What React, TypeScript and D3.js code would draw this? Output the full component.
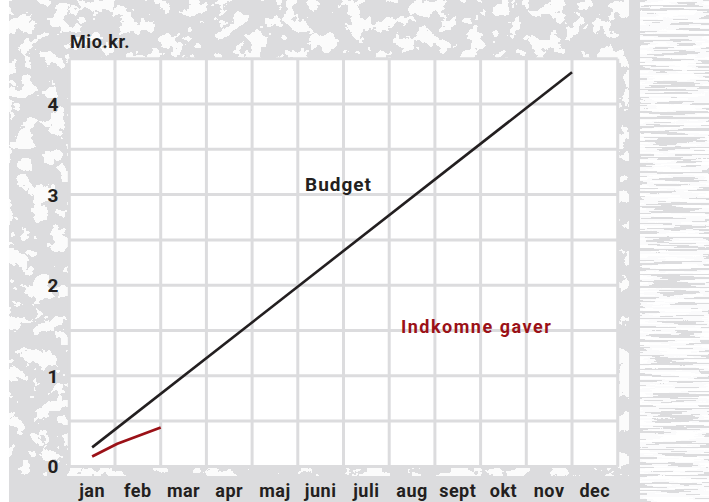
import React from "react";
import * as d3 from "d3";

const months = ["jan", "feb", "mar", "apr", "maj", "juni", "juli", "aug", "sept", "okt", "nov", "dec"];
const yTicks = [0, 1, 2, 3, 4];
const budgetX = [0.5, 11];
const budgetY = [0.21, 4.35];
const giftsX = [0.5, 1.05, 2];
const giftsY = [0.11, 0.25, 0.43];

const W = 709;
const H = 502;
const FONT = "Roboto, 'DejaVu Sans', sans-serif";

export default function App() {
  const x = d3.scaleLinear().domain([0, 12]).range([69.3, 617.7]);
  const y = d3.scaleLinear().domain([0, 4.5]).range([466.4, 58.7]);
  const line = d3
    .line<[number, number]>()
    .x((d) => x(d[0]))
    .y((d) => y(d[1]));
  const budget = budgetX.map((v, i) => [v, budgetY[i]] as [number, number]);
  const gifts = giftsX.map((v, i) => [v, giftsY[i]] as [number, number]);
  const vLines = d3.range(0, 13);
  const hLines = d3.range(0, 4.51, 0.5);
  const grid = "#dcdcde";
  const ink = "#231f20";
  const red = "#9b1117";

  return (
    <svg
      width={W}
      height={H}
      style={{ position: "absolute", left: 0, top: 0, display: "block" }}
      fontFamily={FONT}
    >
      <defs>
        <filter id="blotch" x="0" y="0" width="100%" height="100%">
          <feTurbulence type="fractalNoise" baseFrequency="0.06" numOctaves="4" seed="11" result="n" />
          <feColorMatrix in="n" type="matrix" values="0 0 0 0 1  0 0 0 0 1  0 0 0 0 1  1.6 0 0 0 -0.3" result="a" />
          <feComponentTransfer in="a">
            <feFuncA type="discrete" tableValues="0 0 0 1 1" />
          </feComponentTransfer>
        </filter>
        <filter id="streak" x="0" y="0" width="100%" height="100%">
          <feTurbulence type="fractalNoise" baseFrequency="0.02 0.35" numOctaves="2" seed="3" result="n" />
          <feColorMatrix in="n" type="matrix" values="0 0 0 0 1  0 0 0 0 1  0 0 0 0 1  1.8 0 0 0 -0.4" result="a" />
          <feComponentTransfer in="a">
            <feFuncA type="discrete" tableValues="0 0 0.9 1 1" />
          </feComponentTransfer>
        </filter>
      </defs>
      <rect x={0} y={0} width={W} height={H} fill="#ffffff" />
      <rect x={9} y={0} width={W - 9} height={H} fill="#dcdcde" />
      <rect x={9} y={0} width={620} height={H} fill="#fff" filter="url(#blotch)" opacity={0.9} />
      <rect x={640} y={0} width={69} height={H} fill="#fff" filter="url(#streak)" />
      <rect x={0} y={0} width={9} height={H} fill="#ffffff" />
      <rect x={9} y={476} width={620} height={26} fill="#dcdcde" />

      <rect x={x(0)} y={y(4.5)} width={x(12) - x(0)} height={y(0) - y(4.5)} fill="#ffffff" />
      {vLines.map((m) => (
        <line key={"v" + m} x1={x(m)} x2={x(m)} y1={y(4.5)} y2={y(0)} stroke={grid} strokeWidth={3} />
      ))}
      {hLines.map((v) => (
        <line key={"h" + v} x1={x(0)} x2={x(12)} y1={y(v)} y2={y(v)} stroke={grid} strokeWidth={3} />
      ))}

      <path d={line(budget) || ""} fill="none" stroke={ink} strokeWidth={2.6} />
      <path d={line(gifts) || ""} fill="none" stroke={red} strokeWidth={2.8} strokeLinejoin="round" />

      <text x={70} y={48} fontSize={18} fontWeight={700} fill={ink} letterSpacing={0.6}>
        Mio.kr.
      </text>
      {yTicks.map((t) => (
        <text key={"y" + t} x={53} y={y(t) + 7} fontSize={19} fontWeight={700} fill={ink} textAnchor="middle">
          {t}
        </text>
      ))}
      {months.map((m, i) => (
        <text key={m} x={x(i + 0.5)} y={497} fontSize={18} fontWeight={700} fill={ink} textAnchor="middle" letterSpacing={0.5}>
          {m}
        </text>
      ))}
      <text x={305} y={191} fontSize={19} fontWeight={700} fill={ink} letterSpacing={1}>
        Budget
      </text>
      <text x={401} y={333} fontSize={18} fontWeight={700} fill={red} letterSpacing={1.5}>
        Indkomne gaver
      </text>
    </svg>
  );
}
